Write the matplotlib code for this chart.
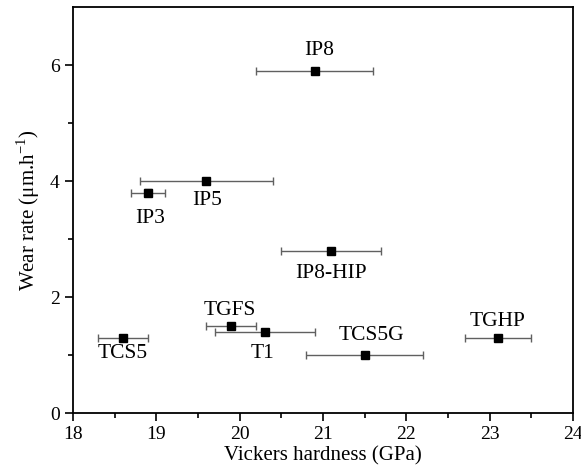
import numpy as np
import matplotlib.pyplot as plt

# Data
names = ['IP8', 'IP5', 'IP3', 'IP8-HIP', 'TGFS', 'T1', 'TCS5', 'TCS5G', 'TGHP']
hardness = [20.9, 19.6, 18.9, 21.1, 19.9, 20.3, 18.6, 21.5, 23.1]
hardness_err = [0.7, 0.8, 0.2, 0.6, 0.3, 0.6, 0.3, 0.7, 0.4]
wear = [5.9, 4.0, 3.8, 2.8, 1.5, 1.4, 1.3, 1.0, 1.3]
wear_err = [0.05, 0.04, 0.06, 0.05, 0.03, 0.03, 0.03, 0.03, 0.03]
label_x = [20.96, 19.61, 18.92, 21.10, 19.88, 20.28, 18.60, 21.58, 23.10]
label_y = [6.26, 3.67, 3.36, 2.40, 1.76, 1.02, 1.02, 1.34, 1.57]

plt.rcParams['font.family'] = ['Liberation Serif', 'DejaVu Serif']

fig = plt.figure(figsize=(5.81, 4.75), dpi=100)
ax = fig.add_axes([0.1256, 0.1305, 0.8605, 0.8545])

ax.errorbar(hardness, wear, xerr=hardness_err, yerr=wear_err,
            fmt='none', ecolor='#606060', elinewidth=1.0,
            capsize=3, capthick=1.0, zorder=2)
ax.plot(hardness, wear, 's', color='black', markersize=6, zorder=3)

for n, lx, ly in zip(names, label_x, label_y):
    ax.text(lx, ly, n, ha='center', va='center', fontsize=15.5)

ax.set_xlim(18, 24)
ax.set_ylim(0, 7)
ax.set_xticks(np.arange(18, 24.1, 1))
ax.set_xticks(np.arange(18.5, 24, 1), minor=True)
ax.set_yticks([0, 2, 4, 6])
ax.set_yticks([1, 3, 5], minor=True)
ax.tick_params(which='both', direction='out', top=False, right=False,
               labelsize=14, width=1.2)
ax.tick_params(which='major', length=6)
ax.tick_params(which='minor', length=3.5)
for s in ax.spines.values():
    s.set_linewidth(1.3)

ax.set_xlabel('Vickers hardness (GPa)', fontsize=15, labelpad=2)
ax.set_ylabel('Wear rate (\u03bcm.h$^{\\mathregular{-1}}$)', fontsize=15, labelpad=6)

plt.savefig('out.png', dpi=100)
